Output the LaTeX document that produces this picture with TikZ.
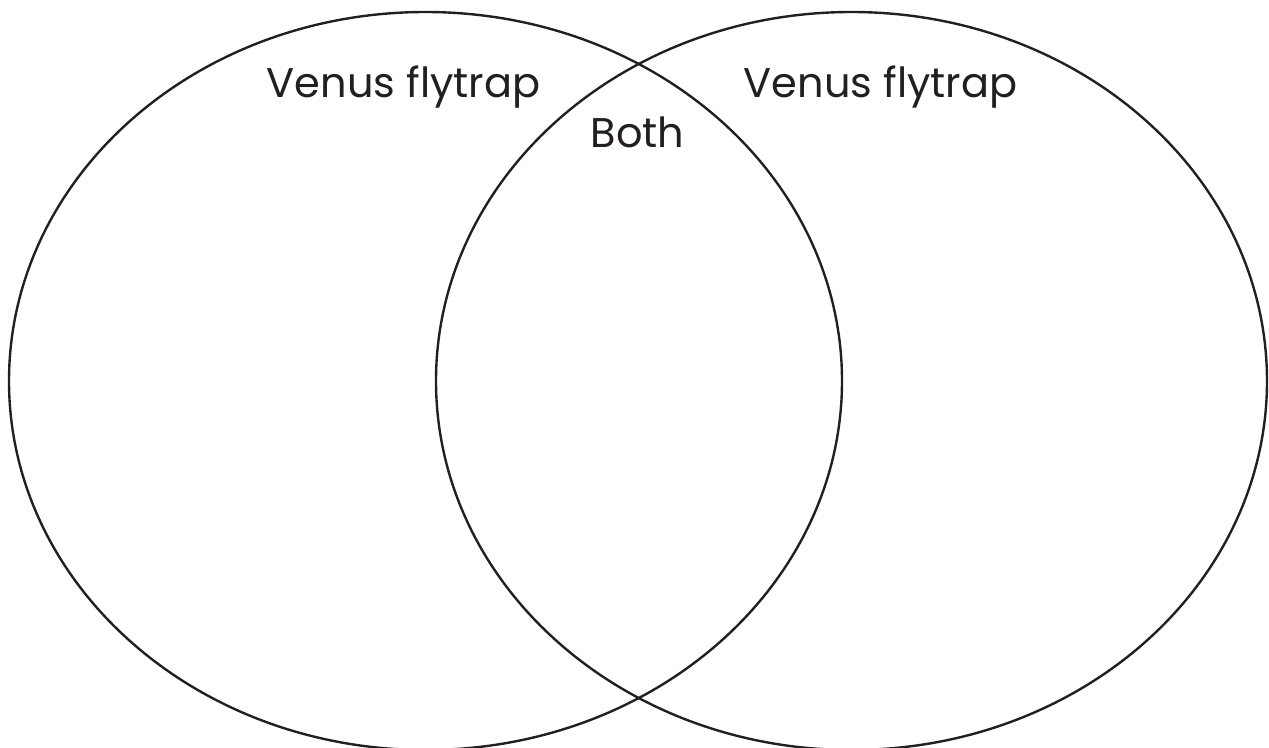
\documentclass[tikz,border=0pt]{standalone}
\usepackage{fontspec}
\setmainfont{Poppins}
\usepackage{xcolor}
\usetikzlibrary{positioning}
\definecolor{inkgray}{HTML}{231F20}

\begin{document}
\begin{tikzpicture}[
    x=0.025cm, y=-0.025cm,
    ring/.style={draw=inkgray, line width=1.7pt},
    label/.style={anchor=base, text=inkgray, inner sep=0pt, font=\fontsize{29.5}{36}\selectfont}
]
    \useasboundingbox (0,0) rectangle (1269,748);

    % --- Circles ---
    \draw[ring] (425.5,381) ellipse (416.5 and 369);
    \draw[ring] (851.5,381) ellipse (415.5 and 369);

    % --- Labels ---
    \node[label] (leftname) at (403.5,98) {Venus flytrap};
    \node[label] (rightname) at (880.5,98) {Venus flytrap};
    \node[label] (both) at (637.5,148) {Both};
\end{tikzpicture}
\end{document}
